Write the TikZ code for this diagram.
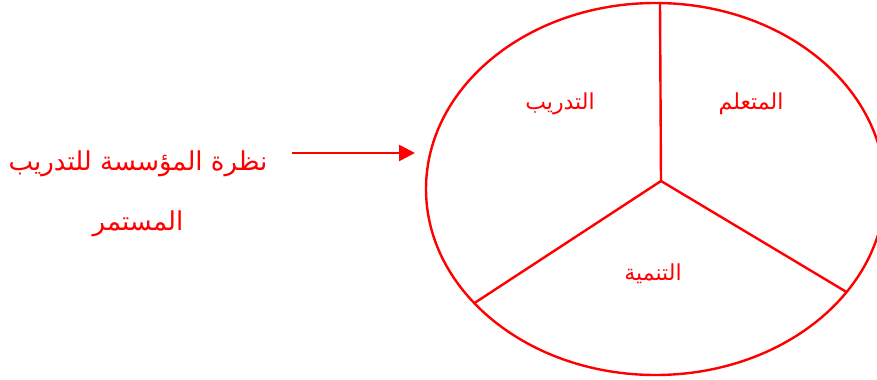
\documentclass[tikz,border=0pt]{standalone}
\usepackage{fontspec}
\usetikzlibrary{arrows.meta}
\newfontfamily\arabicfont[Script=Arabic]{DejaVu Sans}
\TeXXeTstate=1

\begin{document}
\begin{tikzpicture}[x=0.75pt, y=0.75pt, >={Triangle[length=12pt,width=12pt]},
    part/.style={text=red, font=\arabicfont\fontsize{16.5}{20}\selectfont},
    rim/.style={draw=red, line width=1.8pt}]
    \useasboundingbox (0,0) rectangle (877,379);

    % the circle cut in three
    \coordinate (hub) at (661,198);
    \coordinate (topend) at (660,375);
    \coordinate (leftend) at (474.5,76);
    \coordinate (rightend) at (846.5,87);
    \draw[rim] (655.5,190) ellipse [x radius=172.125pt, y radius=139.5pt];
    \draw[rim] (hub) -- (topend);
    \draw[rim] (hub) -- (leftend);
    \draw[rim] (hub) -- (rightend);

    \node[part] (training) at (560,275) {\beginR التدريب\endR};
    \node[part] (learner) at (751,275) {\beginR المتعلم\endR};
    \node[part] (growth) at (653,105) {\beginR التنمية\endR};

    % title and arrow
    \node[text=red, align=center, font=\arabicfont\fontsize{19.5}{45}\selectfont] (view) at (138,185)
        {\beginR نظرة المؤسسة للتدريب\endR\\\beginR المستمر\endR};
    \coordinate (arrowfrom) at (292,226);
    \coordinate (arrowto) at (415,226);
    \draw[->, red, line width=2pt] (arrowfrom) -- (arrowto);
\end{tikzpicture}
\end{document}
